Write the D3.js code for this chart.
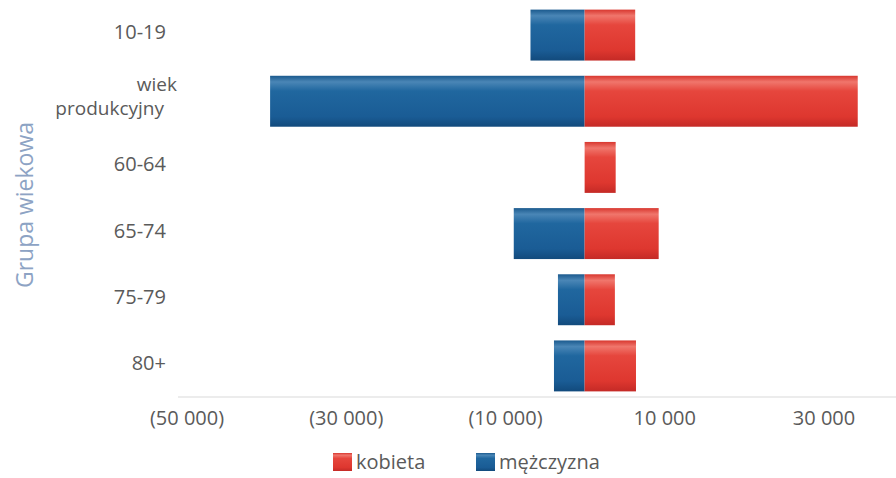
<!DOCTYPE html>
<html>
<head>
<meta charset="utf-8">
<script src="https://cdn.jsdelivr.net/npm/d3@7"></script>
<style>
  body { margin: 0; background: #fff; }
  svg { display: block; font-family: "Open Sans", "Noto Sans", sans-serif; }
</style>
</head>
<body>
<div id="chart"></div>
<script>
const categories = ['10-19', 'wiek produkcyjny', '60-64', '65-74', '75-79', '80+'];
const menValues = [6800, 39500, 0, 8900, 3350, 3850];     // mężczyzna (drawn to the left)
const womenValues = [6350, 34300, 3900, 9300, 3800, 6450]; // kobieta
const tickValues = [-50000, -30000, -10000, 10000, 30000];
const seriesNames = ['kobieta', 'mężczyzna'];

const width = 896, height = 478;

const svg = d3.select('#chart').append('svg')
  .attr('width', width)
  .attr('height', height);

const defs = svg.append('defs');

function addGradient(id, stops) {
  const grad = defs.append('linearGradient')
    .attr('id', id)
    .attr('x1', 0).attr('y1', 0)
    .attr('x2', 0).attr('y2', 1);
  stops.forEach(s => grad.append('stop').attr('offset', s[0]).attr('stop-color', s[1]));
}

addGradient('grad-red', [
  [0, '#d8372f'], [0.12, '#f0766c'], [0.3, '#e6463d'], [0.8, '#de372f'], [1, '#c42a26']
]);
addGradient('grad-blue', [
  [0, '#1b5a8e'], [0.12, '#4a86b6'], [0.3, '#20679f'], [0.8, '#1a5c95'], [1, '#124a7c']
]);

const x = d3.scaleLinear()
  .domain([-50000, 30000])
  .range([186.5, 823.5]);

const y = d3.scaleBand()
  .domain(categories)
  .range([2, 399])
  .paddingInner(0.23)
  .paddingOuter(0.115);

const locale = d3.formatLocale({ decimal: ',', thousands: ' ', grouping: [3], currency: ['', ''] });
const fmt = locale.format(',.0f');
const tickFormat = v => v < 0 ? `(${fmt(-v)})` : fmt(v);

// bars
const rows = categories.map((c, i) => ({ cat: c, men: menValues[i], women: womenValues[i] }));

svg.append('g').selectAll('rect.men')
  .data(rows.filter(d => d.men > 0))
  .join('rect')
  .attr('class', 'men')
  .attr('x', d => x(-d.men))
  .attr('y', d => y(d.cat))
  .attr('width', d => x(0) - x(-d.men))
  .attr('height', y.bandwidth())
  .attr('fill', 'url(#grad-blue)');

svg.append('g').selectAll('rect.women')
  .data(rows)
  .join('rect')
  .attr('class', 'women')
  .attr('x', x(0))
  .attr('y', d => y(d.cat))
  .attr('width', d => x(d.women) - x(0))
  .attr('height', y.bandwidth())
  .attr('fill', 'url(#grad-red)');

// x axis
const xAxis = svg.append('g')
  .attr('transform', 'translate(0,397)')
  .call(d3.axisBottom(x).tickValues(tickValues).tickFormat(tickFormat).tickSize(0).tickPadding(14));

xAxis.select('.domain').remove();
xAxis.append('line')
  .attr('x1', 178).attr('x2', width)
  .attr('stroke', '#d9d9d9');
xAxis.selectAll('text')
  .attr('font-size', 20)
  .attr('fill', '#5a5a5a')
  .attr('font-family', '"Open Sans", sans-serif');

// y labels
const yLabels = svg.append('g');
categories.forEach(c => {
  const cy = y(c) + y.bandwidth() / 2;
  if (c === 'wiek produkcyjny') {
    yLabels.append('text')
      .attr('text-anchor', 'end').attr('font-size', 19).attr('fill', '#5a5a5a')
      .attr('x', 177).attr('y', cy - 10).text('wiek');
    yLabels.append('text')
      .attr('text-anchor', 'end').attr('font-size', 19).attr('fill', '#5a5a5a')
      .attr('x', 164).attr('y', cy + 14).text('produkcyjny');
  } else {
    yLabels.append('text')
      .attr('text-anchor', 'end').attr('font-size', 20).attr('fill', '#5a5a5a')
      .attr('x', 166).attr('y', cy + 4).text(c);
  }
});

// y axis title
svg.append('text')
  .attr('transform', 'translate(33,205) rotate(-90)')
  .attr('text-anchor', 'middle')
  .attr('font-size', 23)
  .attr('fill', '#8da3c4')
  .text('Grupa wiekowa');

// legend
const legend = svg.append('g').attr('transform', 'translate(333,453)');
const legendItems = [
  { name: seriesNames[0], fill: 'url(#grad-red)', x: 0 },
  { name: seriesNames[1], fill: 'url(#grad-blue)', x: 143 }
];
legendItems.forEach(it => {
  legend.append('rect')
    .attr('x', it.x).attr('y', 0)
    .attr('width', 19).attr('height', 18)
    .attr('fill', it.fill);
  legend.append('text')
    .attr('x', it.x + 23).attr('y', 16)
    .attr('font-size', 20)
    .attr('fill', '#5a5a5a')
    .text(it.name);
});
</script>
</body>
</html>
